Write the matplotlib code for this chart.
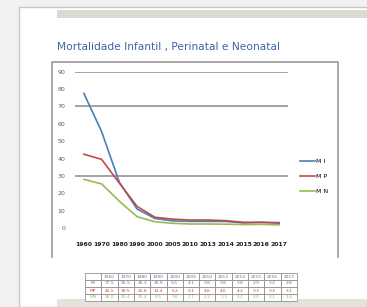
import matplotlib
matplotlib.use('Agg')
import matplotlib.pyplot as plt
from matplotlib.lines import Line2D
from matplotlib.patches import Rectangle

anos = ['1960', '1970', '1980', '1990', '2000', '2005', '2010', '2013',
        '2014', '2015', '2016', '2017']
mi = [77.5, 55.5, 26.3, 10.9, 5.5, 4.1, 3.8, 3.8, 3.8, 2.9, 3.2, 2.8]
mp = [42.5, 39.5, 25.8, 12.4, 6.2, 5.1, 4.6, 4.6, 4.2, 3.3, 3.3, 3.1]
mn = [28.0, 25.4, 15.4, 6.5, 3.6, 2.7, 2.3, 2.3, 2.2, 2.0, 2.1, 1.8]
series_names = ['M I', 'M P', 'M N']
cores = ['#4a7ebb', '#be4b48', '#98b954']

W, H = 367, 307
fig = plt.figure(figsize=(W / 100, H / 100), dpi=100)
fig.patch.set_facecolor('#f1f1f1')

def fx(px):
    return px / W

def fy(py):
    return 1 - py / H

# page and decoration
fig.patches.append(Rectangle((fx(19), 0), 1, fy(7), transform=fig.transFigure,
                             facecolor='white', edgecolor='#c8c8c8', lw=1.0, zorder=0))
fig.patches.append(Rectangle((fx(57), fy(18)), 1, 8 / H, transform=fig.transFigure,
                             facecolor='#d9dbd1', edgecolor='none', zorder=1))
fig.patches.append(Rectangle((fx(57), 0), 1, 8 / H, transform=fig.transFigure,
                             facecolor='#e2e4dc', edgecolor='none', zorder=1))

# chart frame
fig.lines.append(Line2D([fx(52), fx(52), fx(338), fx(338)], [fy(257), fy(62), fy(62), fy(257)],
                        transform=fig.transFigure, color='#a0a0a0', lw=1.3, zorder=2))

fig.text(fx(57), fy(47), 'Mortalidade Infantil , Perinatal e Neonatal', color='#3d63a8',
         fontsize=7.7, family='DejaVu Sans', va='center', ha='left', zorder=3)

ax = fig.add_axes([fx(75), fy(228), fx(288) - fx(75), (228 - 71.7) / H])
ax.set_zorder(5)
ax.patch.set_alpha(0)
x = list(range(len(anos)))
for vals, nome, c in zip([mi, mp, mn], series_names, cores):
    ax.plot(x, vals, color=c, lw=1.2, label=nome)

ax.set_xlim(-0.5, len(anos) - 0.5)
ax.set_ylim(0, 90)
ax.set_yticks(range(0, 91, 10))
ax.set_yticklabels([str(v) for v in range(0, 91, 10)], fontsize=4.5, color='#606060')
ax.set_xticks(x)
ax.set_xticklabels(anos, fontsize=4.4, fontweight='bold', color='#202020')
ax.tick_params(length=0, pad=7)
ax.tick_params(axis='x', pad=10)
for s in ax.spines.values():
    s.set_visible(False)
for g in [30, 70, 90]:
    ax.axhline(g, color='#8a8a8a', lw=1.1, zorder=0)

leg = ax.legend(loc='center left', bbox_to_anchor=(1.03, 0.33), frameon=False,
                fontsize=4.5, handlelength=2.4, handletextpad=0.2, labelspacing=1.6)

# data table
tab_ax = fig.add_axes([fx(85), fy(301), fx(297) - fx(85), 28 / H])
tab_ax.set_zorder(5)
tab_ax.axis('off')
rows = [[''] + anos]
for nome, vals in zip(['MI', 'MP', 'MN'], [mi, mp, mn]):
    rows.append([nome] + ['%.1f' % v for v in vals])
tb = tab_ax.table(cellText=rows, bbox=[0, 0, 1, 1], cellLoc='center')
tb.auto_set_font_size(False)
tb.set_fontsize(3.2)
txt_cores = ['#707070', cores[0], cores[1], cores[2]]
for (r, c), cell in tb.get_celld().items():
    cell.set_edgecolor('#909090')
    cell.set_linewidth(0.6)
    cell.get_text().set_color(txt_cores[r])
    cell.set_facecolor('white')

fig.savefig('out.png', dpi=100)
